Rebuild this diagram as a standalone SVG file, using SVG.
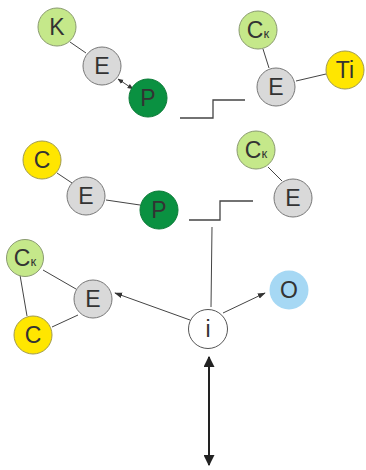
<svg xmlns="http://www.w3.org/2000/svg" width="366" height="470" viewBox="0 0 366 470">
<defs>
<style>
.lg{fill:#c5e88a;stroke:#8a9a70;stroke-width:1}
.gr{fill:#d9d9d9;stroke:#777;stroke-width:1}
.dg{fill:#0a9141;stroke:#0a7a36;stroke-width:1}
.ye{fill:#ffe600;stroke:#a09a50;stroke-width:1}
.bl{fill:#a6d8f4}
.wh{fill:#fff;stroke:#555;stroke-width:1}
text{font-family:"Liberation Sans",Arial,sans-serif;font-size:23px;fill:#333;text-anchor:middle;dominant-baseline:central}
.sub{font-size:13px}
.ln{stroke:#444;stroke-width:1;fill:none}
.st{stroke:#444;stroke-width:1.3;fill:none}
</style>
<marker id="sa" viewBox="0 0 10 10" refX="9" refY="5" markerWidth="6" markerHeight="6" orient="auto-start-reverse"><path d="M0,1 L10,5 L0,9 z" fill="#333"/></marker>
<marker id="ma" viewBox="0 0 10 10" refX="9" refY="5" markerWidth="8" markerHeight="8" orient="auto-start-reverse"><path d="M0,1.5 L10,5 L0,8.5 z" fill="#333"/></marker>
<marker id="la" viewBox="0 0 10 10" refX="9" refY="5" markerWidth="5.5" markerHeight="5.5" orient="auto-start-reverse"><path d="M0,0 L10,5 L0,10 z" fill="#222"/></marker>
</defs>
<g id="connectors">
<line class="ln" x1="70" y1="42" x2="86" y2="53"/>
<line class="ln" x1="118" y1="79" x2="133" y2="89" marker-start="url(#sa)" marker-end="url(#sa)"/>
<path class="st" d="M180,118 H213 V100 H245"/>
<line class="ln" x1="263" y1="49" x2="269" y2="68"/>
<line class="ln" x1="296" y1="81" x2="326" y2="74"/>
<line class="ln" x1="57" y1="173" x2="72" y2="183"/>
<line class="ln" x1="106" y1="200" x2="140" y2="205"/>
<line class="ln" x1="268" y1="167" x2="282" y2="181"/>
<path class="st" d="M189,220 H220 V201 H253"/>
<line class="ln" x1="212" y1="227" x2="211" y2="307"/>
<line class="ln" x1="43" y1="270" x2="76" y2="289"/>
<line class="ln" x1="20" y1="275" x2="27" y2="316"/>
<line class="ln" x1="52" y1="327" x2="78" y2="315"/>
<line class="ln" x1="190" y1="320" x2="115" y2="293" marker-end="url(#ma)"/>
<line class="ln" x1="223" y1="313" x2="265" y2="293" marker-end="url(#ma)"/>
<line x1="209" y1="357" x2="209" y2="465" stroke="#222" stroke-width="2" marker-start="url(#la)" marker-end="url(#la)"/>
</g>
<g id="n-k"><circle class="lg" cx="57" cy="27" r="19"/><text x="57" y="27">K</text></g>
<g id="n-e1"><circle class="gr" cx="102" cy="66" r="19"/><text x="102" y="66">E</text></g>
<g id="n-p1"><circle class="dg" cx="148" cy="98" r="19"/><text x="148" y="98">P</text></g>
<g id="n-ck1"><circle class="lg" cx="258" cy="30" r="19"/><text x="258" y="30"><tspan>C</tspan><tspan class="sub" dy="3">к</tspan></text></g>
<g id="n-e2"><circle class="gr" cx="276" cy="87" r="19"/><text x="276" y="87">E</text></g>
<g id="n-ti"><circle class="ye" cx="345" cy="70" r="19"/><text x="345" y="70">Ti</text></g>
<g id="n-c1"><circle class="ye" cx="42" cy="160" r="19"/><text x="42" y="160">C</text></g>
<g id="n-e3"><circle class="gr" cx="86" cy="196" r="19"/><text x="86" y="196">E</text></g>
<g id="n-p2"><circle class="dg" cx="159" cy="210" r="19"/><text x="159" y="210">P</text></g>
<g id="n-ck2"><circle class="lg" cx="256" cy="150" r="19"/><text x="256" y="150"><tspan>C</tspan><tspan class="sub" dy="3">к</tspan></text></g>
<g id="n-e4"><circle class="gr" cx="293" cy="198" r="19"/><text x="293" y="198">E</text></g>
<g id="n-ck3"><circle class="lg" cx="25" cy="258" r="18.5"/><text x="25" y="258"><tspan>C</tspan><tspan class="sub" dy="3">к</tspan></text></g>
<g id="n-e5"><circle class="gr" cx="93" cy="299" r="19"/><text x="93" y="299">E</text></g>
<g id="n-c2"><circle class="ye" cx="33" cy="335" r="19"/><text x="33" y="335">C</text></g>
<g id="n-i"><circle class="wh" cx="208" cy="329" r="19.5"/><text x="208" y="329">i</text></g>
<g id="n-o"><circle class="bl" cx="289" cy="290" r="19.5"/><text x="289" y="290">O</text></g>
</svg>
